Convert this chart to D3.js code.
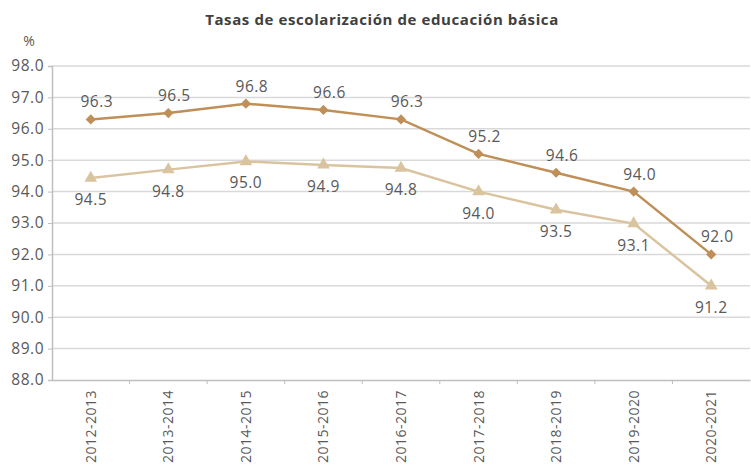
<!DOCTYPE html>
<html>
<head>
<meta charset="utf-8">
<script src="https://cdn.jsdelivr.net/npm/d3@7"></script>
<style>
  body { margin: 0; background: #fff; }
  svg { display: block; font-family: "Open Sans", sans-serif; }
</style>
</head>
<body>
<div id="vis"></div>
<script>
// Data
var cycles = ["2012-2013", "2013-2014", "2014-2015", "2015-2016", "2016-2017",
              "2017-2018", "2018-2019", "2019-2020", "2020-2021"];
var upperValues = [96.3, 96.5, 96.8, 96.6, 96.3, 95.2, 94.6, 94.0, 92.0];
var upperLabels = ["96.3", "96.5", "96.8", "96.6", "96.3", "95.2", "94.6", "94.0", "92.0"];
// the lower series is drawn a little below its printed labels in the source
var lowerValues = [94.43, 94.7, 94.96, 94.85, 94.75, 94.0, 93.42, 92.98, 91.0];
var lowerLabels = ["94.5", "94.8", "95.0", "94.9", "94.8", "94.0", "93.5", "93.1", "91.2"];
var yTicks = [88, 89, 90, 91, 92, 93, 94, 95, 96, 97, 98];

var width = 751;
var height = 470;
var margin = { top: 66, right: 1, bottom: 90, left: 52 };

var upperColor = "#bf8f57";
var lowerColor = "#d9c49f";
var textColor = "#595959";

var svg = d3.select("#vis").append("svg")
  .attr("width", width)
  .attr("height", height);

var x = d3.scaleBand()
  .domain(cycles)
  .range([margin.left, width - margin.right]);

var y = d3.scaleLinear()
  .domain([88, 98])
  .range([height - margin.bottom, margin.top]);

// title
svg.append("text")
  .attr("x", 382)
  .attr("y", 25)
  .attr("text-anchor", "middle")
  .attr("font-size", 15)
  .attr("font-weight", "bold")
  .attr("letter-spacing", 0.6)
  .attr("fill", "#404040")
  .text("Tasas de escolarización de educación básica");

svg.append("text")
  .attr("x", 29)
  .attr("y", 46)
  .attr("text-anchor", "middle")
  .attr("font-size", 14)
  .attr("fill", textColor)
  .text("%");

// gridlines
svg.append("g")
  .selectAll("line")
  .data(yTicks.slice(1))
  .enter().append("line")
  .attr("x1", margin.left)
  .attr("x2", width - margin.right)
  .attr("y1", function (d) { return y(d); })
  .attr("y2", function (d) { return y(d); })
  .attr("stroke", "#d9d9d9")
  .attr("stroke-width", 1.5);

// y axis
var yAxis = svg.append("g")
  .attr("transform", "translate(" + margin.left + ",0)")
  .call(d3.axisLeft(y).tickValues(yTicks).tickFormat(d3.format(".1f")).tickSize(4).tickPadding(4));
yAxis.select(".domain").attr("stroke", "#bfbfbf").attr("stroke-width", 1.5);
yAxis.selectAll(".tick line").attr("stroke", "#bfbfbf");
yAxis.selectAll(".tick text")
  .attr("font-family", "Open Sans, sans-serif")
  .attr("font-size", 15.5)
  .attr("letter-spacing", 0.5)
  .attr("fill", textColor);

// x axis
var xAxis = svg.append("g")
  .attr("transform", "translate(0," + y(88) + ")")
  .call(d3.axisBottom(x).tickSize(0).tickPadding(0));
xAxis.select(".domain").attr("stroke", "#bfbfbf").attr("stroke-width", 1.5);
xAxis.selectAll(".tick text")
  .attr("font-family", "Open Sans, sans-serif")
  .attr("font-size", 14)
  .attr("letter-spacing", 0.5)
  .attr("fill", textColor)
  .attr("text-anchor", "end")
  .attr("transform", "translate(5,10) rotate(-90)")
  .attr("dy", 0)
  .attr("y", 0);

// tick marks between categories
svg.append("g")
  .selectAll("line")
  .data(cycles.slice(1))
  .enter().append("line")
  .attr("x1", function (d) { return x(d); })
  .attr("x2", function (d) { return x(d); })
  .attr("y1", y(88))
  .attr("y2", y(88) + 4)
  .attr("stroke", "#bfbfbf");

function cx(d, i) { return x(cycles[i]) + x.bandwidth() / 2; }

var line = d3.line()
  .x(function (d, i) { return cx(d, i); })
  .y(function (d) { return y(d); });

// lower series
svg.append("path")
  .datum(lowerValues)
  .attr("fill", "none")
  .attr("stroke", lowerColor)
  .attr("stroke-width", 2.5)
  .attr("d", line);

svg.append("g")
  .selectAll("path")
  .data(lowerValues)
  .enter().append("path")
  .attr("d", d3.symbol().type(d3.symbolTriangle).size(70))
  .attr("transform", function (d, i) { return "translate(" + cx(d, i) + "," + y(d) + ")"; })
  .attr("fill", lowerColor);

// upper series
svg.append("path")
  .datum(upperValues)
  .attr("fill", "none")
  .attr("stroke", upperColor)
  .attr("stroke-width", 2.5)
  .attr("d", line);

svg.append("g")
  .selectAll("rect")
  .data(upperValues)
  .enter().append("rect")
  .attr("x", -3.6)
  .attr("y", -3.6)
  .attr("width", 7.2)
  .attr("height", 7.2)
  .attr("transform", function (d, i) { return "translate(" + cx(d, i) + "," + y(d) + ") rotate(45)"; })
  .attr("fill", upperColor);

// data labels
svg.append("g")
  .selectAll("text")
  .data(upperValues)
  .enter().append("text")
  .attr("x", function (d, i) { return cx(d, i) + 6; })
  .attr("y", function (d) { return y(d) - 12; })
  .attr("text-anchor", "middle")
  .attr("font-size", 15.5)
  .attr("letter-spacing", 0.5)
  .attr("fill", textColor)
  .text(function (d, i) { return upperLabels[i]; });

svg.append("g")
  .selectAll("text")
  .data(lowerValues)
  .enter().append("text")
  .attr("x", function (d, i) { return cx(d, i); })
  .attr("y", function (d) { return y(d) + 27; })
  .attr("text-anchor", "middle")
  .attr("font-size", 15.5)
  .attr("letter-spacing", 0.5)
  .attr("fill", textColor)
  .text(function (d, i) { return lowerLabels[i]; });
</script>
</body>
</html>
